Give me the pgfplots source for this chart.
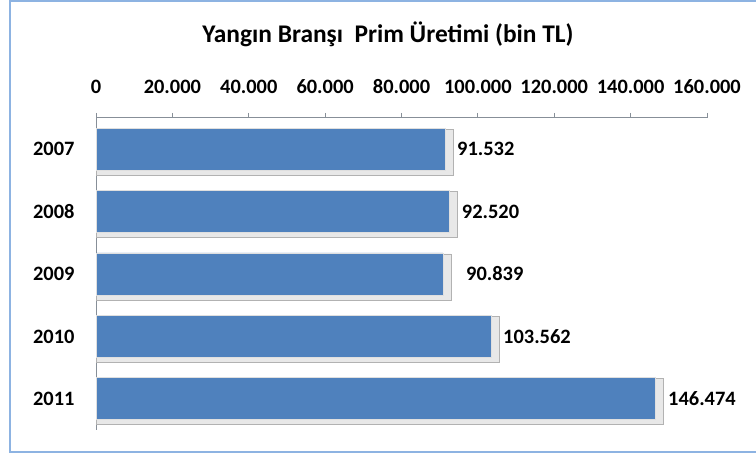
\documentclass[border=0pt]{standalone}
\usepackage{pgfplots}
\usepackage{pgfplotstable}
\pgfplotsset{compat=1.18}
\usepackage{fontspec}
\setmainfont{Carlito}
\definecolor{barblue}{HTML}{4F81BD}
\definecolor{axgray}{HTML}{878F98}
\definecolor{framecol}{HTML}{8DB3E2}
\pgfplotstableread{
y v lx lab
4 91532 94530 91.532
3 92520 95765 92.520
2 90839 96890 90.839
1 103562 106580 103.562
0 146474 149785 146.474
}\data
\newcommand{\lblfont}{\bfseries\fontsize{20.5}{24}\selectfont}
\begin{document}
\begin{tikzpicture}[x=1bp,y=1bp]
\path[use as bounding box] (0,0) rectangle (756,454);
\draw[framecol, line width=1.5bp] (10,2) rectangle (800,453);
\node[font=\bfseries\fontsize{25.5}{30}\selectfont] at (388,420) {Yangın Branşı\ \ Prim Üretimi (bin TL)};
\begin{axis}[
  at={(96bp,24bp)}, anchor=south west,
  width=611bp, height=312bp, scale only axis,
  xmin=0, xmax=160000, ymin=-0.5, ymax=4.5,
  scaled x ticks=false,
  axis x line*=top, axis y line*=left,
  axis line style={axgray, line width=1bp},
  xtick={0,20000,40000,60000,80000,100000,120000,140000,160000},
  xticklabels={0,20.000,40.000,60.000,80.000,100.000,120.000,140.000,160.000},
  tick align=outside, major tick length=5bp,
  tick style={axgray, line width=0.8bp},
  ytick={0,1,2,3,4}, yticklabels={2011,2010,2009,2008,2007},
  ytick style={draw=none},
  extra y ticks={-0.5,0.5,1.5,2.5,3.5,4.5}, extra y tick labels={},
  extra y tick style={tick style={axgray, line width=0.8bp}},
  ticklabel style={font=\lblfont},
  xticklabel style={yshift=16bp},
  yticklabel style={xshift=-13bp},
  clip=false,
]
\addplot[xbar, bar width=46bp, bar shift=-3bp, fill=gray!18, draw=gray!60, line width=0.8bp]
  table[x expr=\thisrow{v}+2100, y=y]{\data};
\addplot[xbar, bar width=42bp, fill=barblue, draw=white!75!gray, line width=0.6bp]
  table[x=v, y=y]{\data};
\addplot[draw=none, mark=none, nodes near coords, point meta=explicit symbolic,
  nodes near coords style={anchor=west, inner sep=0pt, font=\lblfont, text=black}]
  table[x=lx, y=y, meta=lab]{\data};
\end{axis}
\end{tikzpicture}
\end{document}
